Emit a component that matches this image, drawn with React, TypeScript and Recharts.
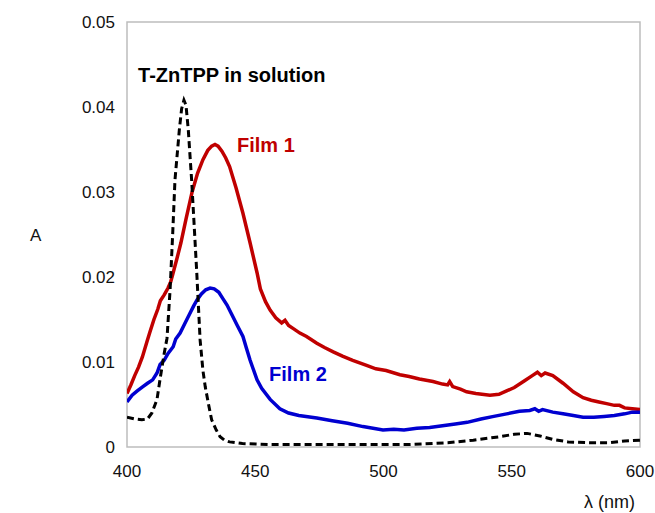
import React from 'react';
import {
  LineChart,
  Line,
  XAxis,
  YAxis,
  ReferenceArea,
  ReferenceDot,
} from 'recharts';

// absorbance spectra as [wavelength nm, A]
const solutionSpectrum: [number, number][] = [
  [400, 0.0035], [403, 0.0033], [405.8, 0.0032], [408, 0.0033], [409.7, 0.004],
  [411.7, 0.0056], [413, 0.0082], [414.5, 0.011], [415.6, 0.0128], [416.8, 0.0185],
  [417.8, 0.025], [418.7, 0.0314], [420.4, 0.0373], [421.3, 0.0398], [422.2, 0.0408],
  [423, 0.0402], [423.9, 0.0373], [425.2, 0.0314], [426.2, 0.026], [427.2, 0.0205],
  [428.5, 0.0126], [429.6, 0.009], [430.5, 0.0071], [431.8, 0.005], [433, 0.0032],
  [434.8, 0.002], [436.3, 0.0012], [438, 0.0008], [440, 0.0006], [445, 0.0004],
  [455, 0.0003], [470, 0.0003], [490, 0.0003], [510, 0.0003], [525, 0.0005],
  [535, 0.0008], [545, 0.0012], [551, 0.0015], [556, 0.0016], [561, 0.0013],
  [566, 0.0009], [572, 0.0006], [580, 0.0005], [588, 0.0005], [594, 0.0007],
  [600, 0.0008],
];

const film1Spectrum: [number, number][] = [
  [400, 0.0063], [401.5, 0.0073], [403, 0.0084], [404.5, 0.0094], [406, 0.0106],
  [407.8, 0.0124], [409, 0.0136], [410.5, 0.015], [412, 0.0162], [413, 0.0172],
  [414.5, 0.0179], [416, 0.0187], [417, 0.0194], [418, 0.0205], [419.5, 0.0222],
  [421, 0.024], [423, 0.0268], [425.3, 0.0299], [427.5, 0.0322], [429.6, 0.0338],
  [431.5, 0.0349], [433, 0.0354], [434.3, 0.0356], [435.5, 0.0354], [437, 0.0348],
  [438.5, 0.034], [440, 0.033], [442.5, 0.0305], [445.2, 0.0275], [448, 0.024],
  [450.7, 0.0205], [452, 0.0186], [454, 0.0171], [455.8, 0.0161], [458, 0.0152],
  [460.3, 0.0146], [461.6, 0.0149], [463, 0.0143], [465, 0.0139], [467.4, 0.0134],
  [470, 0.013], [474, 0.0122], [477, 0.0117], [480.4, 0.0112], [484, 0.0107],
  [488, 0.0102], [493.4, 0.0096], [497, 0.0092], [501, 0.009], [506.4, 0.0085],
  [510, 0.0083], [514, 0.008], [519.3, 0.0077], [523, 0.0074], [525, 0.0073],
  [525.8, 0.0077], [527, 0.0071], [530, 0.0068], [532.4, 0.0065], [536, 0.0063],
  [541.5, 0.0061], [545, 0.0062], [548, 0.0066], [551, 0.007], [555, 0.0078],
  [558, 0.0084], [560, 0.0088], [561.5, 0.0084], [563, 0.0087], [566, 0.0084],
  [570, 0.0075], [574, 0.0065], [577.8, 0.0058], [581, 0.0055], [584, 0.0053],
  [587, 0.0051], [590, 0.0049], [592, 0.0049], [594, 0.0046], [597, 0.0045],
  [600, 0.0044],
];

const film2Spectrum: [number, number][] = [
  [400, 0.0053], [402, 0.0061], [404, 0.0066], [406.2, 0.0071], [408, 0.0075],
  [410, 0.0079], [411.7, 0.0087], [412.9, 0.0097], [414.5, 0.0102], [416, 0.011],
  [418, 0.0118], [419, 0.0127], [420.7, 0.0134], [422.5, 0.0145], [424.5, 0.0157],
  [426, 0.0166], [427.3, 0.0173], [429, 0.018], [430.7, 0.0185], [432.4, 0.0187],
  [434, 0.0186], [435.8, 0.0182], [437.5, 0.0174], [439, 0.0167], [441, 0.0155],
  [443, 0.0143], [445.2, 0.013], [446.6, 0.0116], [448, 0.0102], [450.7, 0.0079],
  [452.5, 0.0069], [455.8, 0.0056], [459.6, 0.0045], [463, 0.004], [467, 0.0037],
  [474, 0.0034], [480, 0.0031], [486, 0.0028], [492, 0.0024], [499.8, 0.002],
  [504, 0.0021], [508, 0.002], [513, 0.0022], [518, 0.0023], [523, 0.0025],
  [528, 0.0027], [532.6, 0.0029], [538, 0.0033], [543, 0.0036], [548, 0.0039],
  [553, 0.0042], [557, 0.0043], [559, 0.0045], [560.5, 0.0042], [562, 0.0044],
  [566, 0.0041], [570, 0.0039], [574, 0.0037], [577.8, 0.0035], [582, 0.0035],
  [586, 0.0036], [590, 0.0037], [594, 0.0039], [597, 0.0041], [600, 0.0041],
];

const xTicks = [400, 450, 500, 550, 600];
const yTicks = [0, 0.01, 0.02, 0.03, 0.04, 0.05];

const toPoints = (rows: [number, number][]) => rows.map(([x, y]) => ({ x, y }));

const labelFont = { fontSize: 20, fontWeight: 'bold' as const };

export default function App() {
  return (
    <div style={{ position: 'absolute', left: 0, top: 0, fontFamily: '"Liberation Sans", Arial, sans-serif' }}>
      <LineChart width={655} height={513} margin={{ top: 22, right: 15, bottom: 0, left: 0 }}>
        <XAxis
          type="number"
          dataKey="x"
          domain={[400, 600]}
          ticks={xTicks}
          allowDataOverflow
          axisLine={false}
          tickLine={false}
          tickSize={0}
          tickMargin={18}
          height={66}
          tick={{ fill: '#111', fontSize: 17 }}
          label={{ value: 'λ (nm)', position: 'insideBottomRight', offset: 5, fill: '#111', fontSize: 18 }}
        />
        <YAxis
          type="number"
          dataKey="y"
          domain={[0, 0.05]}
          ticks={yTicks}
          allowDataOverflow
          axisLine={false}
          tickLine={false}
          tickSize={0}
          tickMargin={12}
          width={127}
          tick={{ fill: '#111', fontSize: 17 }}
          label={{ value: 'A', position: 'insideLeft', offset: 30, fill: '#111', fontSize: 17 }}
        />
        <ReferenceArea x1={400} x2={600} y1={0} y2={0.05} fill="none" stroke="#bdbdbd" strokeWidth={1.5} />
        <Line
          data={toPoints(film1Spectrum)}
          dataKey="y"
          stroke="#c00000"
          strokeWidth={3.5}
          dot={false}
          isAnimationActive={false}
        />
        <Line
          data={toPoints(film2Spectrum)}
          dataKey="y"
          stroke="#0000d0"
          strokeWidth={3.5}
          dot={false}
          isAnimationActive={false}
        />
        <Line
          data={toPoints(solutionSpectrum)}
          dataKey="y"
          stroke="#000"
          strokeWidth={3}
          strokeDasharray="7 4"
          dot={false}
          isAnimationActive={false}
        />
        <ReferenceDot
          x={404.3}
          y={0.0438}
          r={0}
          stroke="none"
          fill="none"
          label={{ value: 'T-ZnTPP in solution', position: 'right', offset: 0, fill: '#000', ...labelFont }}
        />
        <ReferenceDot
          x={442.9}
          y={0.0355}
          r={0}
          stroke="none"
          fill="none"
          label={{ value: 'Film 1', position: 'right', offset: 0, fill: '#c00000', ...labelFont }}
        />
        <ReferenceDot
          x={455.4}
          y={0.0086}
          r={0}
          stroke="none"
          fill="none"
          label={{ value: 'Film 2', position: 'right', offset: 0, fill: '#0000d0', ...labelFont }}
        />
      </LineChart>
    </div>
  );
}
